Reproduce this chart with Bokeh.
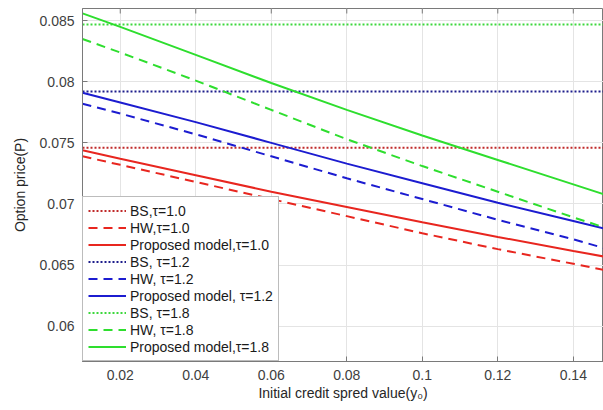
import math
from bokeh.plotting import figure
from bokeh.models import Range1d, FixedTicker, CustomJSTickFormatter, Legend, LegendItem
from bokeh.embed import file_html
from bokeh.resources import INLINE

# ---- data ----
y0_vals = [0.01, 0.02, 0.04, 0.06, 0.08, 0.10, 0.12, 0.14, 0.148]

bs_tau10 = 0.0746
bs_tau12 = 0.0792
bs_tau18 = 0.0847

hw_tau10 = [0.0739, 0.0732, 0.0718, 0.0704, 0.0690, 0.0676, 0.0663, 0.0651, 0.0646]
pm_tau10 = [0.0744, 0.0737, 0.07235, 0.0710, 0.06975, 0.0685, 0.0673, 0.06615, 0.0657]
hw_tau12 = [0.0782, 0.0774, 0.0757, 0.0739, 0.0721, 0.0704, 0.0687, 0.0671, 0.0664]
pm_tau12 = [0.0791, 0.0783, 0.0767, 0.0750, 0.0733, 0.0717, 0.0701, 0.0686, 0.0680]
hw_tau18 = [0.0835, 0.0824, 0.0801, 0.0777, 0.0753, 0.0731, 0.0710, 0.0689, 0.0681]
pm_tau18 = [0.0856, 0.0845, 0.0822, 0.0799, 0.0777, 0.0756, 0.0736, 0.0716, 0.0708]

x_ticks = [0.02, 0.04, 0.06, 0.08, 0.10, 0.12, 0.14]
y_ticks = [0.06, 0.065, 0.07, 0.075, 0.08, 0.085]
x_min, x_max = 0.01, 0.148
y_min, y_max = 0.0571, 0.0860

labels = ["BS,\u03c4=1.0", "HW,\u03c4=1.0", "Proposed model,\u03c4=1.0",
          "BS, \u03c4=1.2", "HW, \u03c4=1.2", "Proposed model, \u03c4=1.2",
          "BS, \u03c4=1.8", "HW, \u03c4=1.8", "Proposed model,\u03c4=1.8"]

# ---- styles ----
RED = "#e8261f"
BLUE = "#1c1cd0"
GREEN = "#2ede2e"
RED_DOT = "#c02a2a"
BLUE_DOT = "#1e1e8c"
GREEN_DOT = "#3cd83c"
FONT = "Liberation Sans"
AXC = "#7a7a7a"
TXT = "#404040"

p = figure(width=603, height=410, output_backend="svg", toolbar_location=None,
           x_range=Range1d(x_min, x_max), y_range=Range1d(y_min, y_max),
           min_border_left=82, min_border_right=0, min_border_top=8, min_border_bottom=49)
p.background_fill_color = "white"
p.border_fill_color = "white"
p.outline_line_color = AXC

fmt = CustomJSTickFormatter(code="return String(parseFloat(tick.toFixed(4)));")

for ax in p.xaxis + p.yaxis:
    ax.major_tick_in = 5
    ax.major_tick_out = 0
    ax.minor_tick_in = 0
    ax.minor_tick_out = 0
    ax.axis_line_color = AXC
    ax.major_tick_line_color = AXC
    ax.major_label_text_font = FONT
    ax.major_label_text_font_size = "14px"
    ax.major_label_text_color = TXT
    ax.axis_label_text_font = FONT
    ax.axis_label_text_font_size = "14px"
    ax.axis_label_text_font_style = "normal"
    ax.axis_label_text_color = "#262626"
    ax.formatter = fmt

p.xaxis.ticker = FixedTicker(ticks=x_ticks)
p.yaxis.ticker = FixedTicker(ticks=y_ticks)
p.xaxis.axis_label = "Initial credit spred value(y\u2080)"
p.yaxis.axis_label = "Option price(P)"
p.xaxis.major_label_standoff = 8
p.yaxis.major_label_standoff = 8
p.xaxis.axis_label_standoff = 2
p.yaxis.axis_label_standoff = 8

p.xgrid.ticker = FixedTicker(ticks=x_ticks)
p.ygrid.ticker = FixedTicker(ticks=y_ticks)
p.grid.grid_line_color = "#e4e4e4"
p.grid.grid_line_width = 1

# inward tick marks on the top edge of the box (half of each dash is clipped by the frame)
p.scatter(x=x_ticks, y=[y_max] * len(x_ticks), marker="dash", angle=math.pi / 2,
          size=10, line_color=AXC, line_width=1)

LW = 2
DASH = "9 6"
DOT = "2 2"
xe = [x_min, x_max]

r = []
r.append(p.line(xe, [bs_tau10, bs_tau10], line_color=RED_DOT, line_width=LW, line_dash=DOT))
r.append(p.line(y0_vals, hw_tau10, line_color=RED, line_width=LW, line_dash=DASH))
r.append(p.line(y0_vals, pm_tau10, line_color=RED, line_width=LW))
r.append(p.line(xe, [bs_tau12, bs_tau12], line_color=BLUE_DOT, line_width=LW, line_dash=DOT))
r.append(p.line(y0_vals, hw_tau12, line_color=BLUE, line_width=LW, line_dash=DASH))
r.append(p.line(y0_vals, pm_tau12, line_color=BLUE, line_width=LW))
r.append(p.line(xe, [bs_tau18, bs_tau18], line_color=GREEN_DOT, line_width=LW, line_dash=DOT))
r.append(p.line(y0_vals, hw_tau18, line_color=GREEN, line_width=LW, line_dash=DASH))
r.append(p.line(y0_vals, pm_tau18, line_color=GREEN, line_width=LW))

legend = Legend(items=[LegendItem(label=l, renderers=[rr]) for l, rr in zip(labels, r)],
                location="bottom_left", margin=0, padding=5, spacing=0,
                label_text_font=FONT, label_text_font_size="14px", label_text_color="#1a1a1a",
                label_height=17, glyph_height=17, glyph_width=38, label_standoff=4,
                border_line_color=AXC, border_line_width=1, background_fill_alpha=1)
p.add_layout(legend, "center")

open("out.html", "w").write(file_html(p, INLINE))
